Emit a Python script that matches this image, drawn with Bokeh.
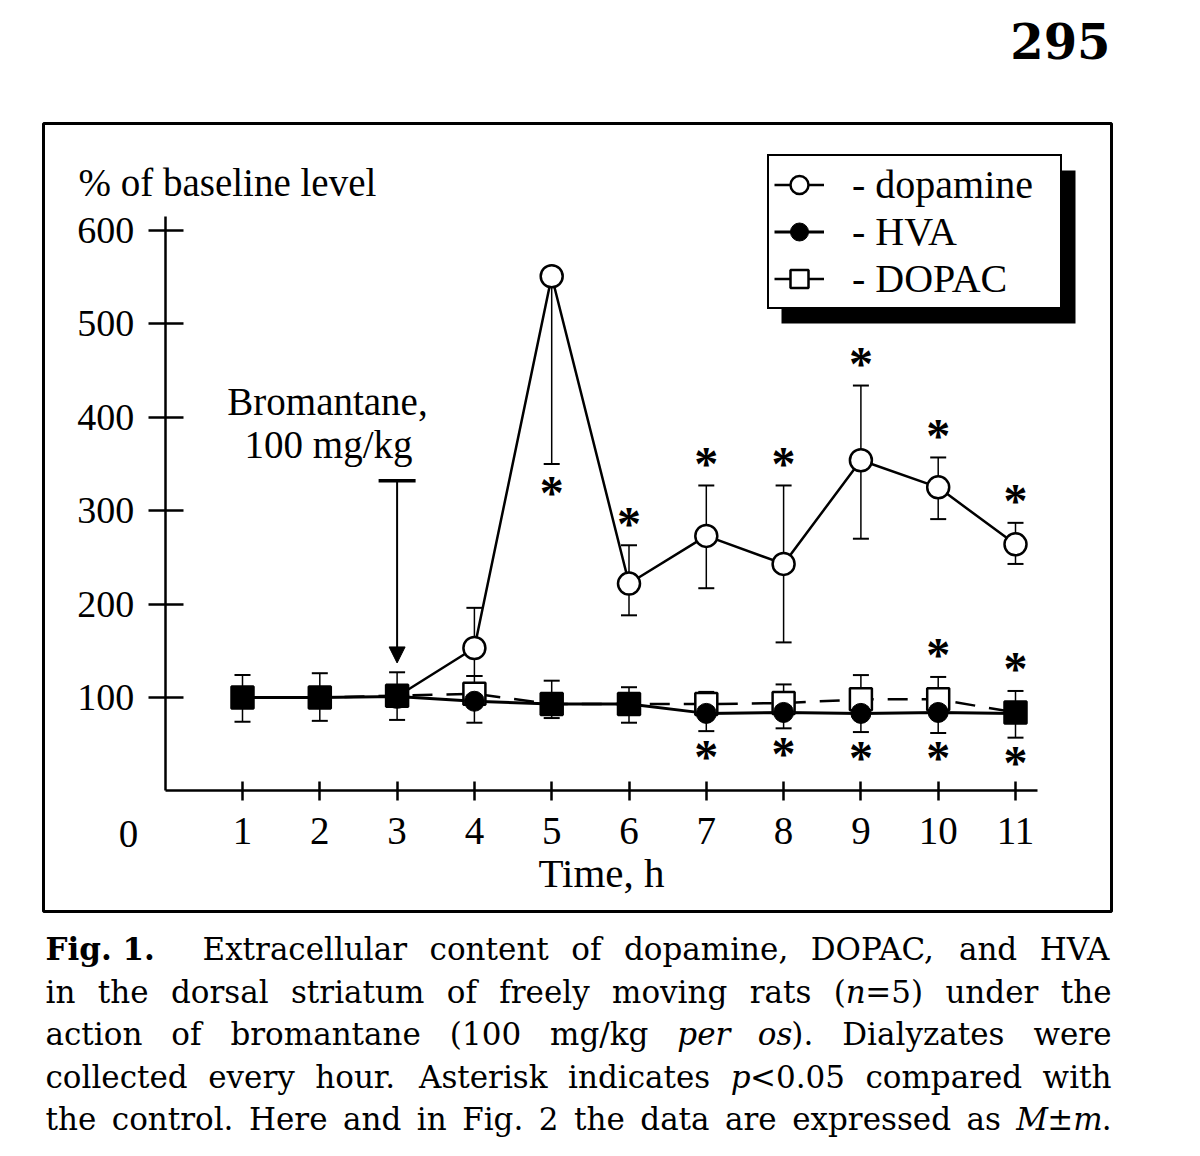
from bokeh.plotting import figure
from bokeh.models import (Range1d, FixedTicker, ColumnDataSource, Whisker, TeeHead,
                          Arrow, NormalHead, Legend, LegendItem, Label)
from bokeh.core.properties import value
from bokeh.embed import file_html
from bokeh.resources import INLINE

# ---------------- data ----------------
hours = [1, 2, 3, 4, 5, 6, 7, 8, 9, 10, 11]
hva = [100, 100, 101, 96, 93, 93, 83, 84, 83, 84, 83]
hva_lower = [74, 75, 76, 73, 78, 73, 64, 67, 63, 62, 57]
dopac = [100, 100, 102, 104, 93, 93, 93, 94, 98, 98, 84]
dopac_upper = [124, 126, 127, 123, 118, 111, 106, 114, 124, 122, 107]

da_hours = [3, 4, 5, 6, 7, 8, 9, 10, 11]
dopamine = [101, 153, 551, 222, 273, 243, 354, 325, 264]
da_upper = [None, 196, None, 263, 327, 327, 434, 357, 287]
da_lower = [None, 123, 350, 188, 217, 159, 270, 291, 243]

da_star_above = [6, 7, 8, 9, 10, 11]
da_star_below = [5]
hva_star_below = [7, 8, 9, 10, 11]
dopac_star_above = [10, 11]

x_ticks = [1, 2, 3, 4, 5, 6, 7, 8, 9, 10, 11]
y_ticks = [100, 200, 300, 400, 500, 600]

dose_hour = 3
dose_arrow_top = 332
dose_arrow_tip = 137

legend_labels = ["- dopamine", "- HVA", "- DOPAC"]

caption_head = "Fig. 1."
caption_lines = [
    "Extracellular content of dopamine, DOPAC, and HVA",
    "in the dorsal striatum of freely moving rats (_n_=5) under the",
    "action of bromantane (100 mg/kg _per_ _os_). Dialyzates were",
    "collected every hour. Asterisk indicates _p_<0.05 compared with",
    "the control. Here and in Fig. 2 the data are expressed as _M_±_m_.",
]
page_number = "295"

# ---------------- pixel <-> data helpers (layout only) ----------------
X0PX, XS = 164.7, 77.3      # pixel x of hour 0, px per hour
Y0PX, YS = 790.4, 0.934     # pixel y of 0 %, px per %
WIDTH, HEIGHT = 1184, 1140


def X(px):
    return (px - X0PX) / XS


def Y(py):
    return (Y0PX - py) / YS


SERIF = "Liberation Serif"
CAPF = "DejaVu Serif"

p = figure(width=WIDTH, height=HEIGHT,
           x_range=Range1d(X(0), X(WIDTH)), y_range=Range1d(Y(HEIGHT), Y(0)),
           output_backend="svg", toolbar_location=None, min_border=0,
           outline_line_color=None, background_fill_color="white",
           border_fill_color="white")
p.xgrid.visible = False
p.ygrid.visible = False

# axes crossing at the origin
for ax in (p.xaxis[0], p.yaxis[0]):
    ax.fixed_location = 0
    ax.axis_line_width = 2.5
    ax.axis_line_color = "black"
    ax.major_tick_line_width = 2.5
    ax.major_tick_line_color = "black"
    ax.minor_tick_line_color = None
    ax.major_label_text_font = SERIF
    ax.major_label_text_color = "black"

p.yaxis.ticker = FixedTicker(ticks=y_ticks)
p.yaxis.bounds = (0, 615)
p.yaxis.major_tick_in = 18
p.yaxis.major_tick_out = 17
p.yaxis.major_label_standoff = 14
p.yaxis.major_label_text_font_size = "38px"

p.xaxis.ticker = FixedTicker(ticks=x_ticks)
p.xaxis.bounds = (0, 11.28)
p.xaxis.major_tick_in = 9
p.xaxis.major_tick_out = 10
p.xaxis.major_label_standoff = 17
p.xaxis.major_label_text_font_size = "39px"
p.xaxis.axis_label = "Time, h"
p.xaxis.axis_label_text_font = SERIF
p.xaxis.axis_label_text_font_style = "normal"
p.xaxis.axis_label_text_font_size = "41px"
p.xaxis.axis_label_text_color = "black"
p.xaxis.axis_label_standoff = 3

# outer frame and legend shadow (decorations)
p.quad(left=[X(43)], right=[X(1111)], top=[Y(123)], bottom=[Y(911)],
       fill_color=None, line_color="black", line_width=3)
p.quad(left=[X(781)], right=[X(1075)], top=[Y(170)], bottom=[Y(323)],
       fill_color="black", line_color=None)


# error bars
def whiskers(xs, base, ends, up):
    xx, bb, ee = [], [], []
    for a, b, c in zip(xs, base, ends):
        if c is not None:
            xx.append(a); bb.append(b); ee.append(c)
    src = ColumnDataSource(dict(x=xx, b=bb, e=ee))
    head = TeeHead(size=16, line_width=2, line_color="black")
    if up:
        w = Whisker(source=src, base="x", lower="b", upper="e", upper_head=head,
                    lower_head=None, line_width=1.5, line_color="black")
    else:
        w = Whisker(source=src, base="x", lower="e", upper="b", lower_head=head,
                    upper_head=None, line_width=1.5, line_color="black")
    p.add_layout(w)


whiskers(da_hours, dopamine, da_upper, True)
whiskers(da_hours, dopamine, da_lower, False)
whiskers(hours, dopac, dopac_upper, True)
whiskers(hours, hva, hva_lower, False)

# lines
dopac_line = p.line(hours, dopac, line_color="black", line_width=2.5, line_dash="20 14")
hva_line = p.line(hours, hva, line_color="black", line_width=3)
da_line = p.line(da_hours, dopamine, line_color="black", line_width=2.5)

# markers
da_pts = p.scatter(da_hours, dopamine, marker="circle", size=22, fill_color="white",
                   line_color="black", line_width=2.5)
sq_fill = ["black" if abs(a - b) <= 2 else "white" for a, b in zip(dopac, hva)]
p.scatter(x="x", y="y", source=ColumnDataSource(dict(x=hours, y=dopac, f=sq_fill)),
          marker="square", size=22, fill_color="f", line_color="black", line_width=2.5)
hva_pts = p.scatter(hours, hva, marker="circle", size=20, fill_color="black",
                    line_color="black", line_width=1)


# asterisks (significance marks)
def stars(hs, xs, ends, off):
    lookup = dict(zip(xs, ends))
    ys = [lookup[h] for h in hs]
    p.text(x=hs, y=ys, text=["*"] * len(hs), y_offset=off, text_align="center",
           text_baseline="alphabetic", text_font=value(SERIF), text_font_size="48px",
           text_font_style="bold", text_color="black")


stars(da_star_above, da_hours, da_upper, -22)
stars(da_star_below, da_hours, da_lower, 28)
stars(hva_star_below, hours, hva_lower, 25)
stars(dopac_star_above, hours, dopac_upper, -22)

# dose arrow
p.add_layout(Arrow(x_start=dose_hour, y_start=dose_arrow_top, x_end=dose_hour, y_end=dose_arrow_tip,
                   line_width=2, line_color="black",
                   start=TeeHead(size=37, line_width=3.5, line_color="black"),
                   end=NormalHead(size=16, fill_color="black", line_color="black", line_width=1)))


def label(x, y, text, size, align="center", font=SERIF, style="normal"):
    p.add_layout(Label(x=x, y=y, text=text, text_font=font, text_font_size=size,
                       text_align=align, text_baseline="middle", text_font_style=style,
                       text_color="black"))


label(X(327), Y(401), "Bromantane,", "39px")
label(X(328), Y(444), "100 mg/kg", "39px")
label(X(78), Y(182), "% of baseline level", "39px", align="left")
label(X(128), Y(833), "0", "39px")
label(X(1110), Y(40), page_number, "48px", align="right", font=CAPF, style="bold")

# legend
nan = float("nan")
dopac_leg_line = p.line([nan], [nan], line_color="black", line_width=2.5)
dopac_leg_pts = p.scatter([nan], [nan], marker="square", size=22, fill_color="white",
                          line_color="black", line_width=2.5)
legend = Legend(items=[
    LegendItem(label=legend_labels[0], renderers=[da_line, da_pts]),
    LegendItem(label=legend_labels[1], renderers=[hva_line, hva_pts]),
    LegendItem(label=legend_labels[2], renderers=[dopac_leg_line, dopac_leg_pts]),
], location=(767, HEIGHT - 309), orientation="vertical",
    glyph_width=50, glyph_height=45, label_height=45, spacing=0, padding=5,
    label_standoff=28, label_width=203,
    label_text_font=SERIF, label_text_font_size="40px", label_text_color="black",
    border_line_color="black", border_line_width=2.5, border_line_alpha=1.0,
    background_fill_color="white", background_fill_alpha=1.0)
p.add_layout(legend)

# caption (justified, word by word)
WID = {}
for ch, w in zip("abcdefghijklmnopqrstuvwxyz",
                 [.596, .640, .560, .640, .592, .370, .640, .644, .320, .310, .606, .320, .948,
                  .644, .602, .640, .640, .478, .513, .402, .644, .565, .856, .564, .565, .527]):
    WID[ch] = w
for ch, w in zip("ABCDEFGHIJKLMNOPQRSTUVWXYZ",
                 [.722, .735, .720, .802, .730, .694, .797, .873, .395, .401, .747, .664, 1.024,
                  .875, .820, .673, .820, .753, .685, .667, .843, .722, 1.028, .712, .660, .695]):
    WID[ch] = w
for ch in "0123456789":
    WID[ch] = .636
WID.update({" ": .318, ".": .318, ",": .318, "(": .390, ")": .390, "/": .337,
            "=": .838, "<": .838, "±": .838, "-": .338})

CAP_SIZE = 31


def seg_w(s, style):
    f = {"bold": 1.08, "italic": 0.97}.get(style, 1.0)
    return sum(WID.get(c, .6) for c in s) * CAP_SIZE * f


def parse(tok):
    parts = tok.split("_")
    return [(s, "italic" if i % 2 else "normal") for i, s in enumerate(parts) if s]


segs = {"normal": ([], [], []), "italic": ([], [], []), "bold": ([], [], [])}


def put(px, py, s, style):
    segs[style][0].append(X(px)); segs[style][1].append(Y(py)); segs[style][2].append(s)


line_mid = [948, 991, 1033, 1076, 1118]
put(45, line_mid[0], caption_head, "bold")
for i, line in enumerate(caption_lines):
    left = 202 if i == 0 else 45
    right = 1111
    toks = [parse(t) for t in line.split(" ")]
    widths = [sum(seg_w(s, st) for s, st in t) for t in toks]
    gap = (right - left - sum(widths)) / (len(toks) - 1)
    xpos = left
    for t, w in zip(toks, widths):
        xx = xpos
        for s, st in t:
            put(xx, line_mid[i], s, st)
            xx += seg_w(s, st)
        xpos += w + gap

for style, (xs, ys, ts) in segs.items():
    p.text(x=xs, y=ys, text=ts, text_align="left", text_baseline="middle",
           text_font=value(CAPF), text_font_size=f"{CAP_SIZE}px",
           text_font_style=style, text_color="black")

open("out.html", "w").write(file_html(p, INLINE))
